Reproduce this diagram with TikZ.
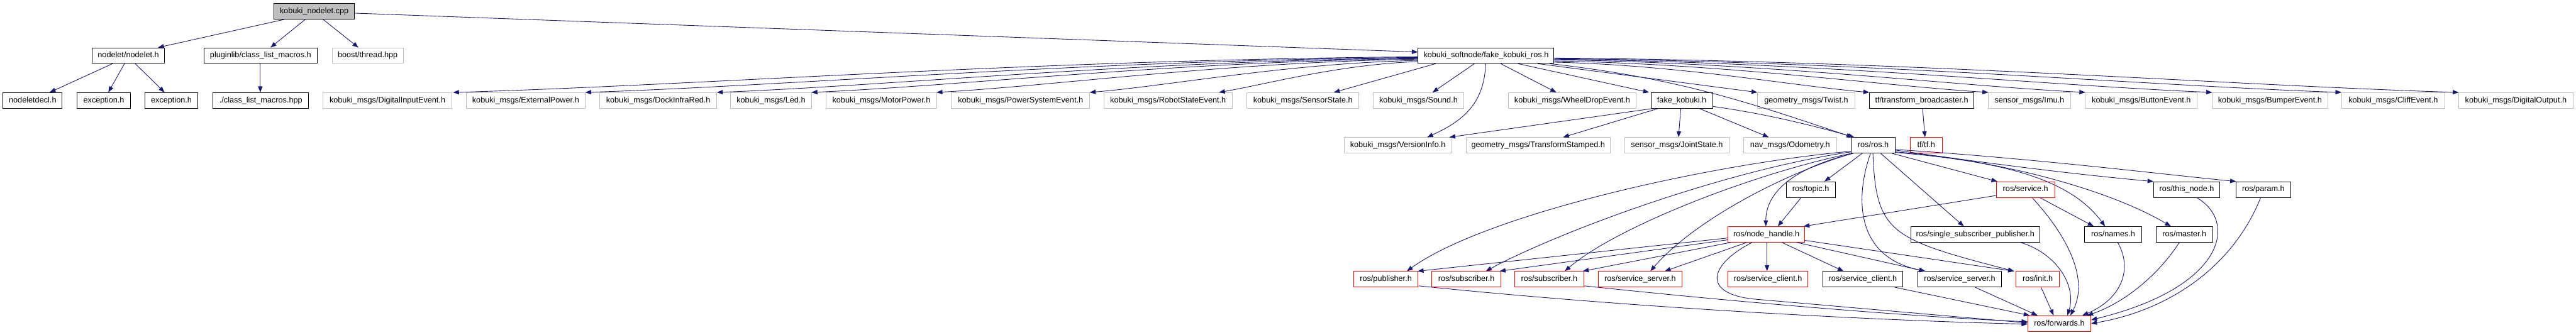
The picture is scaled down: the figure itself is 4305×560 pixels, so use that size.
\documentclass[tikz,border=0pt]{standalone}
\usepackage{fontspec}
\setmainfont{Liberation Sans}
\usetikzlibrary{arrows.meta}
\definecolor{edgeblue}{HTML}{191970}
\definecolor{boxgray}{HTML}{BFBFBF}
\definecolor{boxred}{HTML}{FF0000}
\tikzset{
  hbox/.style={rectangle, inner sep=0pt, minimum height=19.5pt, line width=0.75pt,
    font=\fontsize{10pt}{12pt}\selectfont, text height=7.2pt, text depth=1.9pt, fill=white},
  mainbox/.style={hbox, draw=black, fill=boxgray},
  blkbox/.style={hbox, draw=black},
  grybox/.style={hbox, draw=boxgray},
  redbox/.style={hbox, draw=boxred},
  edge/.style={draw=edgeblue, line width=0.7pt, -{Triangle[length=7.5pt,width=5.5pt]}}
}
\newcommand\bx[6]{\node[#5, minimum width={(#3-#2)*0.75pt}] (#1) at ({(#2+#3)/2},#4) {#6};}
\begin{document}
\begin{tikzpicture}[x=0.75pt, y=-0.75pt]
\useasboundingbox[fill=white] (0,0) rectangle (4305,560);
% row 1
\bx{cpp}{458}{592}{19}{mainbox}{kobuki\_nodelet.cpp}
% row 2
\bx{nodelet}{154}{275}{93}{blkbox}{nodelet/nodelet.h}
\bx{plugin}{341}{530}{93}{blkbox}{pluginlib/class\_list\_macros.h}
\bx{boost}{555}{674}{93}{grybox}{boost/thread.hpp}
\bx{fkros}{2370}{2597}{93}{blkbox}{kobuki\_softnode/fake\_kobuki\_ros.h}
% row 3
\bx{decl}{5}{104}{168}{blkbox}{nodeletdecl.h}
\bx{exca}{129}{218}{168}{blkbox}{exception.h}
\bx{excb}{242}{331}{168}{blkbox}{exception.h}
\bx{clm}{356}{516}{168}{blkbox}{./class\_list\_macros.hpp}
\bx{die}{540}{755}{168}{grybox}{kobuki\_msgs/DigitalInputEvent.h}
\bx{ep}{779}{978}{168}{grybox}{kobuki\_msgs/ExternalPower.h}
\bx{dir}{1002}{1198}{168}{grybox}{kobuki\_msgs/DockInfraRed.h}
\bx{led}{1221}{1356}{168}{grybox}{kobuki\_msgs/Led.h}
\bx{mp}{1381}{1565}{168}{grybox}{kobuki\_msgs/MotorPower.h}
\bx{pse}{1590}{1821}{168}{grybox}{kobuki\_msgs/PowerSystemEvent.h}
\bx{rse}{1845}{2059}{168}{grybox}{kobuki\_msgs/RobotStateEvent.h}
\bx{ss}{2084}{2271}{168}{grybox}{kobuki\_msgs/SensorState.h}
\bx{snd}{2295}{2446}{168}{grybox}{kobuki\_msgs/Sound.h}
\bx{wde}{2521}{2734}{168}{grybox}{kobuki\_msgs/WheelDropEvent.h}
\bx{fk}{2759}{2862}{168}{blkbox}{fake\_kobuki.h}
\bx{tw}{2937}{3100}{168}{grybox}{geometry\_msgs/Twist.h}
\bx{tfb}{3124}{3299}{168}{blkbox}{tf/transform\_broadcaster.h}
\bx{imu}{3323}{3460}{168}{grybox}{sensor\_msgs/Imu.h}
\bx{be}{3485}{3672}{168}{grybox}{kobuki\_msgs/ButtonEvent.h}
\bx{bmp}{3697}{3890}{168}{grybox}{kobuki\_msgs/BumperEvent.h}
\bx{cliff}{3913}{4086}{168}{grybox}{kobuki\_msgs/CliffEvent.h}
\bx{dout}{4109}{4300}{168}{grybox}{kobuki\_msgs/DigitalOutput.h}
% row 4
\bx{vi}{2246}{2426}{243}{grybox}{kobuki\_msgs/VersionInfo.h}
\bx{ts}{2450}{2691}{243}{grybox}{geometry\_msgs/TransformStamped.h}
\bx{js}{2715}{2890}{243}{grybox}{sensor\_msgs/JointState.h}
\bx{odo}{2914}{3069}{243}{grybox}{nav\_msgs/Odometry.h}
\bx{ros}{3094}{3167}{243}{blkbox}{ros/ros.h}
\bx{tf}{3192}{3246}{243}{redbox}{tf/tf.h}
% row 5
\bx{topic}{2985}{3067}{317}{blkbox}{ros/topic.h}
\bx{svc}{3336}{3434}{317}{redbox}{ros/service.h}
\bx{thisn}{3599}{3710}{317}{blkbox}{ros/this\_node.h}
\bx{param}{3737}{3828}{317}{blkbox}{ros/param.h}
% row 6
\bx{nh}{2888}{3016}{392}{redbox}{ros/node\_handle.h}
\bx{ssp}{3193}{3409}{392}{blkbox}{ros/single\_subscriber\_publisher.h}
\bx{names}{3484}{3579}{392}{blkbox}{ros/names.h}
\bx{master}{3603}{3698}{392}{blkbox}{ros/master.h}
% row 7
\bx{pub}{2262}{2370}{467}{redbox}{ros/publisher.h}
\bx{suba}{2393}{2508}{467}{redbox}{ros/subscriber.h}
\bx{subb}{2531}{2647}{467}{redbox}{ros/subscriber.h}
\bx{ssr}{2671}{2811}{467}{redbox}{ros/service\_server.h}
\bx{scr}{2888}{3021}{467}{redbox}{ros/service\_client.h}
\bx{scb}{3046}{3180}{467}{blkbox}{ros/service\_client.h}
\bx{ssb}{3205}{3345}{467}{blkbox}{ros/service\_server.h}
\bx{init}{3369}{3442}{467}{redbox}{ros/init.h}
% row 8
\bx{fwd}{3389}{3494}{541}{redbox}{ros/forwards.h}

% ---- edges from kobuki_nodelet.cpp
\draw[edge] (cpp.south -| 475,0) -- (nodelet.north -| 264,0);
\draw[edge] (cpp.south -| 510,0) -- (plugin.north -| 452,0);
\draw[edge] (cpp.south -| 540,0) -- (boost.north -| 599,0);
\draw[edge] (cpp.east |- 0,22) -- (fkros.west |- 0,87);
\draw[edge] (nodelet.south -| 188,0) -- (decl.north -| 83,0);
\draw[edge] (nodelet.south -| 208,0) -- (exca.north -| 181,0);
\draw[edge] (nodelet.south -| 226,0) -- (excb.north -| 275,0);
\draw[edge] (plugin.south -| 435,0) -- (clm.north -| 435,0);

% ---- edges from fake_kobuki_ros.h (left)
\draw[edge] (fkros.west |- 0,95) .. controls (1725,100) and (1160,143) .. (die.north -| 757,0);
\draw[edge] (fkros.west |- 0,96) .. controls (1813,101) and (1326,143) .. (ep.north -| 978,0);
\draw[edge] (fkros.west |- 0,97) .. controls (1901,102) and (1491,143) .. (dir.north -| 1198,0);
\draw[edge] (fkros.west |- 0,98) .. controls (1964,103) and (1610,143) .. (led.north -| 1356,0);
\draw[edge] (fkros.west |- 0,99) .. controls (2048,104) and (1766,143) .. (mp.north -| 1565,0);
\draw[edge] (fkros.west |- 0,101) .. controls (2150,106) and (1958,143) .. (pse.north -| 1821,0);
\draw[edge] (fkros.west |- 0,103) .. controls (2237,108) and (2120,140) .. (rse.north -| 2037,0);
\draw[edge] (fkros.south -| 2399,0) -- (ss.north -| 2229,0);
\draw[edge] (fkros.south -| 2464,0) -- (snd.north -| 2394,0);
\draw[edge] (fkros.south -| 2483,0) .. controls (2480,170) and (2450,200) .. (vi.north -| 2385,0);
\draw[edge] (fkros.south -| 2508,0) -- (wde.north -| 2601,0);
\draw[edge] (fkros.south -| 2537,0) -- (fk.north -| 2756,0);
% (right)
\draw[edge] (fkros.south -| 2570,0) -- (tw.north -| 2937,0);
\draw[edge] (fkros.east |- 0,104) .. controls (2808,109) and (2992,143) .. (tfb.north -| 3124,0);
\draw[edge] (fkros.east |- 0,102) .. controls (2887,107) and (3142,143) .. (imu.north -| 3323,0);
\draw[edge] (fkros.east |- 0,100) .. controls (2952,105) and (3263,143) .. (be.north -| 3485,0);
\draw[edge] (fkros.east |- 0,99) .. controls (3037,104) and (3422,143) .. (bmp.north -| 3697,0);
\draw[edge] (fkros.east |- 0,98) .. controls (3123,103) and (3584,143) .. (cliff.north -| 3913,0);
\draw[edge] (fkros.east |- 0,97) .. controls (3202,102) and (3731,143) .. (dout.north -| 4109,0);
\draw[edge] (fkros.south -| 2590,0) .. controls (2800,130) and (2920,170) .. (ros.north -| 3096,0);

% ---- edges from fake_kobuki.h
\draw[edge] (fk.south -| 2762,0) -- (vi.north -| 2422,0);
\draw[edge] (fk.south -| 2771,0) -- (ts.north -| 2612,0);
\draw[edge] (fk.south -| 2809,0) -- (js.north -| 2805,0);
\draw[edge] (fk.south -| 2840,0) -- (odo.north -| 2956,0);
\draw[edge] (fk.east |- 0,178) .. controls (2950,190) and (3030,210) .. (ros.north -| 3099,0);

% ---- tf
\draw[edge] (tfb.south -| 3213,0) -- (tf.north -| 3217,0);

% ---- edges from ros/ros.h
\draw[edge] (ros.south -| 3112,0) -- (topic.north -| 3049,0);
\draw[edge] (ros.south -| 3097,0) .. controls (3000,280) and (2951,320) .. (nh.north -| 2951,0);
\draw[edge] (ros.south -| 3126,0) .. controls (3100,330) and (3100,430) .. (ssb.north -| 3218,0);
\draw[edge] (ros.south -| 3130,0) .. controls (3135,390) and (3160,400) .. (init.north -| 3366,0);
\draw[edge] (ros.south -| 3143,0) -- (ssp.north -| 3282,0);
\draw[edge] (ros.south -| 3162,0) -- (svc.north -| 3338,0);
\draw[edge] (ros.east |- 0,251) .. controls (3300,270) and (3450,290) .. (thisn.north -| 3599,0);
\draw[edge] (ros.east |- 0,250) .. controls (3400,265) and (3600,290) .. (param.north -| 3737,0);
\draw[edge] (ros.east |- 0,255) .. controls (3350,270) and (3460,300) .. (names.north -| 3518,0);
\draw[edge] (ros.east |- 0,254) .. controls (3350,268) and (3530,320) .. (master.north -| 3628,0);
\draw[edge] (ros.west |- 0,253) .. controls (2850,275) and (2480,360) .. (pub.north -| 2351,0);
\draw[edge] (ros.west |- 0,254) .. controls (2880,285) and (2600,390) .. (suba.north -| 2483,0);
\draw[edge] (ros.south -| 3094,0) .. controls (2930,290) and (2700,380) .. (subb.north -| 2615,0);
\draw[edge] (ros.south -| 3096,0) .. controls (2980,290) and (2830,370) .. (ssr.north -| 2758,0);

% ---- service / topic
\draw[edge] (svc.west |- 0,327) -- (nh.north -| 3014,0);
\draw[edge] (svc.south -| 3409,0) -- (names.north -| 3499,0);
\draw[edge] (svc.south -| 3396,0) .. controls (3460,400) and (3490,470) .. (fwd.north -| 3460,0);
\draw[edge] (topic.south -| 3010,0) -- (nh.north -| 2971,0);

% ---- node_handle
\draw[edge] (nh.west |- 0,398) -- (pub.north -| 2369,0);
\draw[edge] (nh.west |- 0,401) -- (suba.north -| 2506,0);
\draw[edge] (nh.south -| 2892,0) -- (subb.north -| 2645,0);
\draw[edge] (nh.south -| 2919,0) -- (ssr.north -| 2782,0);
\draw[edge] (nh.south -| 2953,0) -- (scr.north -| 2953,0);
\draw[edge] (nh.south -| 2978,0) -- (scb.north -| 3081,0);
\draw[edge] (nh.south -| 3003,0) -- (ssb.north -| 3217,0);
\draw[edge] (nh.east |- 0,402) -- (init.north -| 3366,0);
\draw[edge] (nh.south -| 2928,0) .. controls (2860,440) and (2840,490) .. (2930,500) -- (fwd.west |- 0,540);

% ---- into forwards
\draw[edge] (pub.east |- 0,478) .. controls (2700,512) and (3100,535) .. (fwd.west |- 0,542);
\draw[edge] (subb.east |- 0,478) .. controls (2900,505) and (3200,530) .. (fwd.west |- 0,538);
\draw[edge] (scb.south -| 3167,0) -- (fwd.north -| 3392,0);
\draw[edge] (ssb.south -| 3301,0) -- (fwd.north -| 3405,0);
\draw[edge] (init.south -| 3411,0) -- (fwd.north -| 3432,0);
\draw[edge] (ssp.south -| 3377,0) .. controls (3440,425) and (3470,480) .. (fwd.north -| 3455,0);
\draw[edge] (names.south -| 3539,0) .. controls (3565,450) and (3545,500) .. (fwd.north -| 3480,0);
\draw[edge] (master.south -| 3642,0) .. controls (3600,470) and (3540,510) .. (fwd.north -| 3488,0);
\draw[edge] (thisn.south -| 3671,0) .. controls (3740,370) and (3720,480) .. (fwd.east |- 0,535);
\draw[edge] (param.south -| 3778,0) .. controls (3730,450) and (3620,520) .. (fwd.east |- 0,541);
\end{tikzpicture}
\end{document}
